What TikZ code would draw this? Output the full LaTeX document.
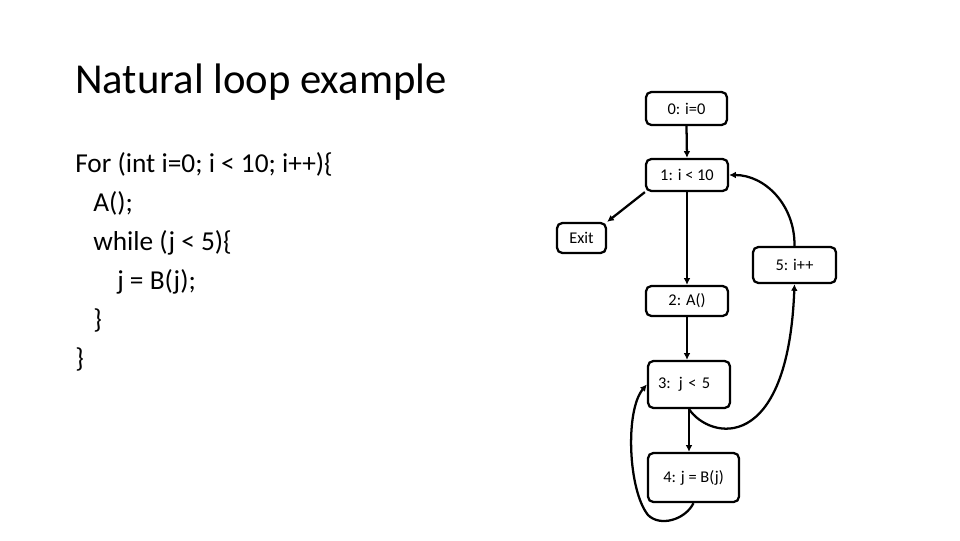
\documentclass[tikz,border=0pt]{standalone}
\usepackage{fontspec}
\setmainfont{Carlito}
\usetikzlibrary{arrows.meta}
\begin{document}
\begin{tikzpicture}[x=0.75pt,y=-0.75pt,
  box/.style={draw, line width=1.7pt, rounded corners=4pt, inner sep=0pt,
    font=\fontsize{12.3}{14}\selectfont},
  arr/.style={line width=1.7pt, -{Latex[length=5pt,width=5pt]}},
  title/.style={anchor=base west, inner sep=0pt, font=\fontsize{32}{38}\selectfont},
  code/.style={anchor=base west, inner sep=0pt, font=\fontsize{20.5}{24}\selectfont}]
\useasboundingbox (0,0) rectangle (960,540);
\node[title] (t) at (75,93) {Natural loop example};
\node[code] (c1) at (75,172) {For (int i=0; i < 10; i++)\{};
\node[code] (c2) at (93,211) {A();};
\node[code] (c3) at (93,250) {while (j < 5)\{};
\node[code] (c4) at (117,289) {j = B(j);};
\node[code] (c5) at (93,328) {\}};
\node[code] (c6) at (75,367) {\}};

\node[box, minimum width=60.75pt, minimum height=24.75pt] (n0) at (686.5,108.5) {0: i=0};
\node[box, minimum width=61.5pt, minimum height=24pt] (n1) at (687,175) {1: i < 10};
\node[box, minimum width=36.75pt, minimum height=22.5pt] (ex) at (581.5,238) {Exit};
\node[box, minimum width=62.25pt, minimum height=27pt] (n5) at (794.5,265) {5: i++};
\node[box, minimum width=61.5pt, minimum height=22.5pt] (n2) at (687,301) {2: A()};
\node[box, minimum width=61.5pt, minimum height=35.25pt, text width=46.5pt, align=left, inner xsep=7.5pt] (n3) at (689,384.5) {3: j < 5};
\node[box, minimum width=68.25pt, minimum height=36.75pt] (n4) at (693.5,477.5) {4: j = B(j)};

\draw[arr] (n0.south) -- (n1.north);
\draw[arr] (n1.south west) -- (ex.north east);
\draw[arr] (n1.south) -- (n1.south |- n2.north);
\draw[arr] (n2.south) -- (n2.south |- n3.north);
\draw[arr] (n3.south) -- (n3.south |- n4.north);
\draw[arr] (n5.north) .. controls (795,205) and (765,175) .. (n1.east);
\draw[arr] (n3.south) .. controls (710,440) and (788,455) .. (n5.south);
\draw[arr] (n4.south) .. controls (685,520) and (660,527) .. (648,515)
  .. controls (628,490) and (625,410) .. (n3.west);
\end{tikzpicture}
\end{document}
